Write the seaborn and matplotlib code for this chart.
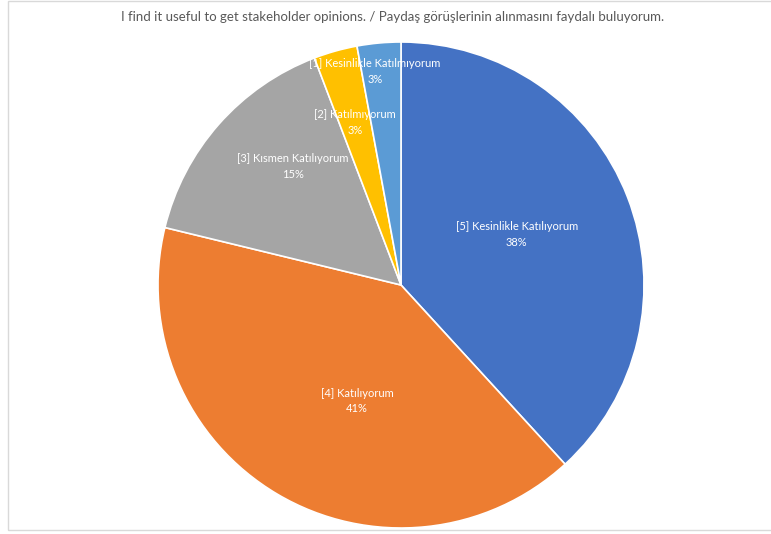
import matplotlib
matplotlib.use("Agg")
import matplotlib.pyplot as plt
import seaborn as sns
import numpy as np
from matplotlib.patches import Rectangle

title = "I find it useful to get stakeholder opinions. / Paydaş görüşlerinin alınmasını faydalı buluyorum."
categories = ["[5] Kesinlikle Katılıyorum", "[4] Katılıyorum", "[3] Kısmen Katılıyorum",
              "[2] Katılmıyorum", "[1] Kesinlikle Katılmıyorum"]
shares = [38.2, 40.6, 15.4, 2.9, 2.9]
pct_labels = ["38%", "41%", "15%", "3%", "3%"]
colors = ["#4472C4", "#ED7D31", "#A5A5A5", "#FFC000", "#5B9BD5"]
label_dist = [0.52, 0.51, 0.66, 0.695, 0.885]
label_shift_cw = [-2.3, -9.9, 6.3, -0.1, -1.7]

sns.set_theme(style="white")
plt.rcParams['font.family'] = ['Lato', 'DejaVu Sans']

W, H = 771, 534
fig = plt.figure(figsize=(W / 100, H / 100), dpi=100)
fig.patch.set_facecolor("white")

cx, cy, r = 401, 285, 243
ax = fig.add_axes([(cx - r) / W, (H - cy - r) / H, 2 * r / W, 2 * r / H])
wedges, _ = ax.pie(shares, colors=sns.color_palette(colors), startangle=90, counterclock=False,
                   wedgeprops=dict(edgecolor="white", linewidth=1.2))
ax.set_xlim(-1, 1)
ax.set_ylim(-1, 1)
ax.set_aspect("equal")
ax.axis("off")

for w, cat, pct, d, s in zip(wedges, categories, pct_labels, label_dist, label_shift_cw):
    th = np.deg2rad((w.theta1 + w.theta2) / 2 - s)
    x, y = d * np.cos(th), d * np.sin(th)
    ax.text(x, y, cat + "\n" + pct, ha="center", va="center", color="white",
            fontsize=8.0, linespacing=1.5)

fig.text(393 / W, 1 - 17 / H, title, ha="center", va="center", color="#595959", fontsize=9.5)

fig.patches.append(Rectangle((8 / W, 1 - 530 / H), 1.0, (529 / H), transform=fig.transFigure,
                             fill=False, edgecolor="#D9D9D9", linewidth=1.0))

fig.savefig("out.png", dpi=100, facecolor="white")
